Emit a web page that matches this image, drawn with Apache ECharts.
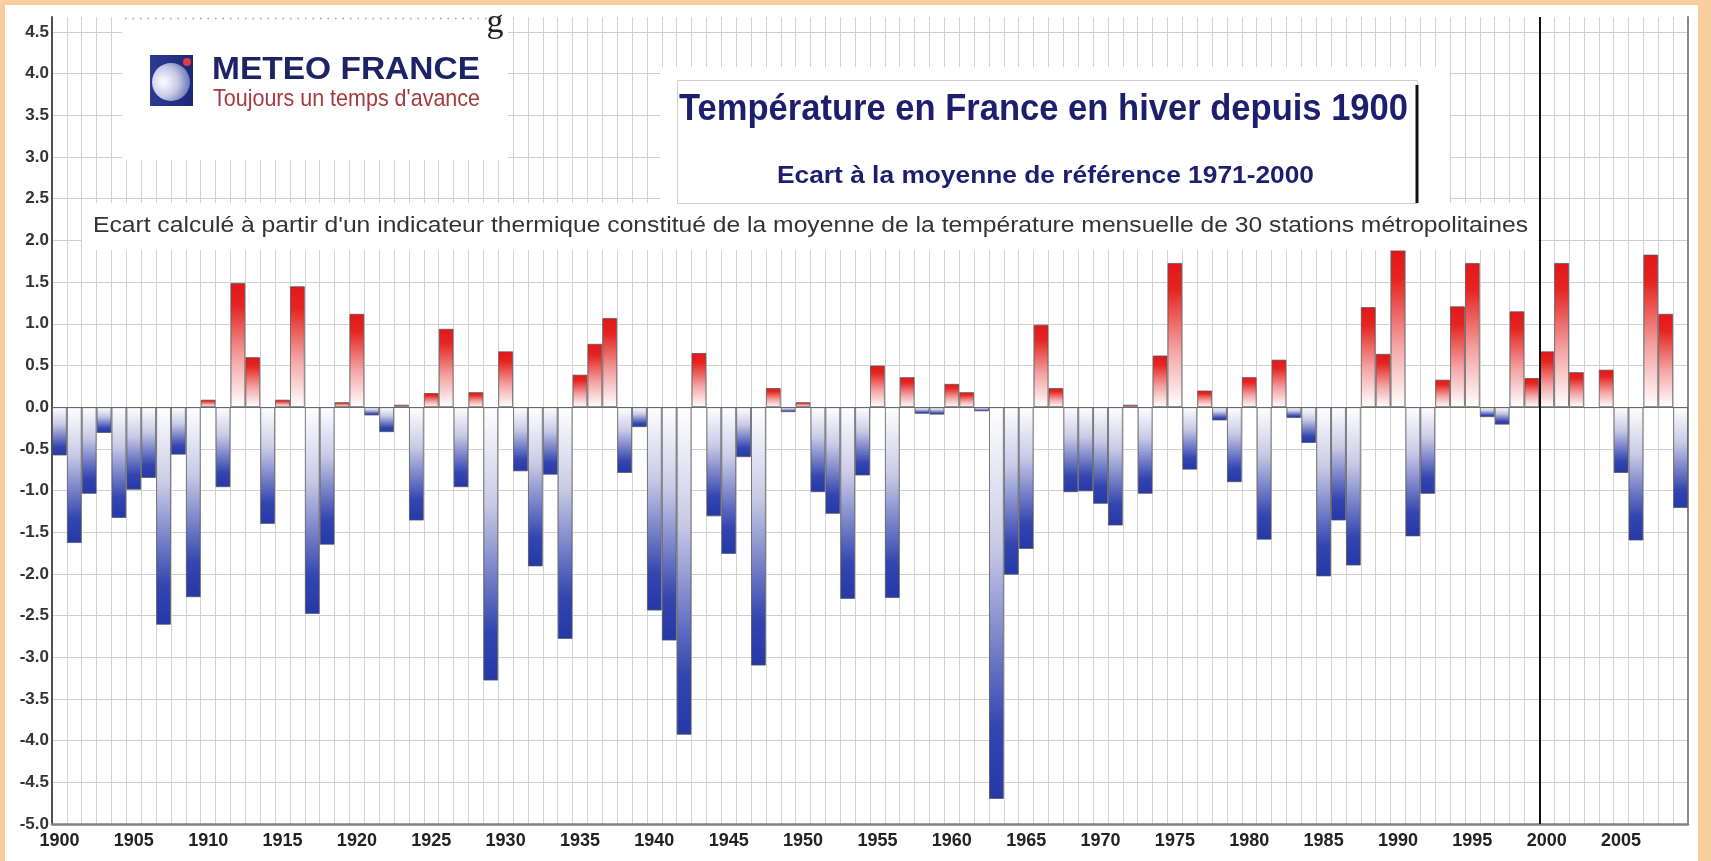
<!DOCTYPE html>
<html>
<head>
<meta charset="utf-8">
<script src="https://cdn.jsdelivr.net/npm/echarts@6/dist/echarts.min.js"></script>
<style>
html,body{margin:0;padding:0;background:#fff;}
#chart{width:1711px;height:861px;}
</style>
</head>
<body>
<div id="chart"></div>
<script>
// ---- Data ----
const years = ['1900','1901','1902','1903','1904','1905','1906','1907','1908','1909',
  '1910','1911','1912','1913','1914','1915','1916','1917','1918','1919',
  '1920','1921','1922','1923','1924','1925','1926','1927','1928','1929',
  '1930','1931','1932','1933','1934','1935','1936','1937','1938','1939',
  '1940','1941','1942','1943','1944','1945','1946','1947','1948','1949',
  '1950','1951','1952','1953','1954','1955','1956','1957','1958','1959',
  '1960','1961','1962','1963','1964','1965','1966','1967','1968','1969',
  '1970','1971','1972','1973','1974','1975','1976','1977','1978','1979',
  '1980','1981','1982','1983','1984','1985','1986','1987','1988','1989',
  '1990','1991','1992','1993','1994','1995','1996','1997','1998','1999',
  '2000','2001','2002','2003','2004','2005','2006','2007','2008','2009'];

const anomalies = [
  -0.58,-1.63,-1.04,-0.31,-1.33,-0.99,-0.85,-2.61,-0.57,-2.28,
   0.09,-0.96, 1.49, 0.60,-1.40, 0.09, 1.45,-2.48,-1.65, 0.06,
   1.12,-0.10,-0.30, 0.03,-1.36, 0.17, 0.94,-0.96, 0.18,-3.28,
   0.67,-0.77,-1.91,-0.81,-2.78, 0.39, 0.76, 1.07,-0.79,-0.24,
  -2.44,-2.80,-3.93, 0.65,-1.31,-1.76,-0.60,-3.10, 0.23,-0.06,
   0.06,-1.02,-1.28,-2.30,-0.82, 0.50,-2.29, 0.36,-0.08,-0.09,
   0.28, 0.18,-0.05,-4.70,-2.01,-1.70, 0.99, 0.23,-1.02,-1.01,
  -1.16,-1.42, 0.03,-1.04, 0.62, 1.73,-0.75, 0.20,-0.16,-0.90,
   0.36,-1.59, 0.57,-0.13,-0.43,-2.03,-1.36,-1.90, 1.20, 0.64,
   1.88,-1.55,-1.04, 0.33, 1.21, 1.73,-0.12,-0.21, 1.15, 0.35,
   0.67, 1.73, 0.42,-0.01, 0.45,-0.79,-1.60, 1.83, 1.12,-1.21];

const yMin = -5.0;
const yMax = 4.68;
const yStep = 0.5;
const xLabelEvery = 5;
const referenceMarkYear = 1999.5; // boundary before 2000

const titleText = 'Température en France en hiver depuis 1900';
const subtitleText = 'Ecart à la moyenne de référence 1971-2000';
const noteText = "Ecart calculé à partir d'un indicateur thermique constitué de la moyenne de la température mensuelle de 30 stations métropolitaines";
const logoName = 'METEO FRANCE';
const logoTagline = "Toujours un temps d'avance";

// ---- helpers ----
const FONT = '"Liberation Sans", Arial, sans-serif';
const ctx = document.createElement('canvas').getContext('2d');
function fitScale(text, font, target) {
  ctx.font = font;
  return target / ctx.measureText(text).width;
}

const redGrad = new echarts.graphic.LinearGradient(0, 0, 0, 1, [
  {offset: 0, color: '#e3171b'},
  {offset: 0.18, color: '#e52420'},
  {offset: 0.6, color: '#f3a3a2'},
  {offset: 1, color: '#ffffff'}
]);
const blueGrad = new echarts.graphic.LinearGradient(0, 0, 0, 1, [
  {offset: 0, color: '#ffffff'},
  {offset: 0.35, color: '#c9cbe6'},
  {offset: 0.82, color: '#3245b0'},
  {offset: 1, color: '#2538a8'}
]);

const chart = echarts.init(document.getElementById('chart'), null, {renderer: 'canvas'});

function textEl(text, x, y, font, fill, target, z) {
  return {
    type: 'text', x: x, y: y, z: z || 110,
    scaleX: fitScale(text, font, target), scaleY: 1, originX: 0, originY: 0,
    style: {text: text, font: font, fill: fill,
      align: 'left', textAlign: 'left', verticalAlign: 'middle', textVerticalAlign: 'middle'}
  };
}

const fTitle = 'bold 36px ' + FONT;
const fSub = 'bold 24px ' + FONT;
const fNote = '22px ' + FONT;
const fLogo = 'bold 32px ' + FONT;
const fTag = '24px ' + FONT;

const option = {
  backgroundColor: '#ffffff',
  animation: false,
  grid: {left: 52, right: 23, top: 17, bottom: 37, containLabel: false},
  xAxis: [{
    type: 'category',
    data: years,
    boundaryGap: true,
    axisLine: {onZero: false, lineStyle: {color: '#808080', width: 2.5}},
    axisTick: {show: false},
    axisLabel: {
      interval: function (idx, val) { return (+val) % xLabelEvery === 0; },
      color: '#222', fontWeight: 'bold', fontSize: 18, fontFamily: FONT, margin: 8
    },
    splitLine: {show: true, interval: 0, lineStyle: {color: '#d2d2d2', width: 1}}
  }, {
    type: 'value',
    min: +years[0] - 0.5,
    max: +years[years.length - 1] + 0.5,
    show: false
  }],
  yAxis: [{
    type: 'value',
    min: yMin, max: yMax, interval: yStep,
    axisLine: {show: true, lineStyle: {color: '#505050', width: 2}},
    axisTick: {show: false},
    axisLabel: {
      showMaxLabel: false,
      formatter: function (v) {
        return Math.abs(v / yStep - Math.round(v / yStep)) < 1e-6 ? v.toFixed(1) : '';
      },
      color: '#333', fontWeight: 'bold', fontSize: 17, fontFamily: FONT, margin: 3
    },
    splitLine: {show: true, showMaxLine: false, lineStyle: {color: '#cfcfcf', width: 1}}
  }, {
    type: 'value', position: 'right',
    min: yMin, max: yMax,
    axisLine: {show: true, lineStyle: {color: '#8a8a8a', width: 2}},
    axisTick: {show: false}, axisLabel: {show: false}, splitLine: {show: false}
  }],
  series: [{
    type: 'bar',
    data: anomalies,
    barCategoryGap: '0%',
    itemStyle: {
      color: function (p) { return p.value >= 0 ? redGrad : blueGrad; },
      borderColor: 'rgba(85,85,85,0.75)',
      borderWidth: 1
    },
    markLine: {
      silent: true, symbol: 'none', label: {show: false},
      lineStyle: {color: '#6a6a6a', width: 1.2, type: 'solid'},
      data: [{yAxis: 0}]
    },
    z: 3
  }, {
    type: 'line',
    xAxisIndex: 1,
    yAxisIndex: 0,
    data: [],
    markLine: {
      silent: true, symbol: 'none', label: {show: false},
      lineStyle: {color: '#111', width: 2, type: 'solid'},
      data: [{xAxis: referenceMarkYear}]
    },
    z: 4
  }],
  graphic: {elements: [
    // orange frame
    {type: 'rect', shape: {x: 0, y: 0, width: 1711, height: 5}, style: {fill: '#facd9f'}, z: 200},
    {type: 'rect', shape: {x: 0, y: 0, width: 5, height: 861}, style: {fill: '#facd9f'}, z: 200},
    {type: 'rect', shape: {x: 1698, y: 0, width: 13, height: 861}, style: {fill: '#facd9f'}, z: 200},
    // logo area
    {type: 'rect', shape: {x: 122, y: 17, width: 386, height: 143}, style: {fill: '#ffffff'}, z: 100},
    {type: 'line', shape: {x1: 125, y1: 18.5, x2: 505, y2: 18.5},
      style: {stroke: '#9a9a9a', lineWidth: 1.5, lineDash: [1.5, 6]}, z: 101},
    // remnant glyph of a cut caption
    {type: 'text', x: 495, y: 40, z: 150,
      style: {text: 'g', font: '34px "Liberation Serif", serif', fill: '#222',
        align: 'center', textAlign: 'center', verticalAlign: 'bottom', textVerticalAlign: 'bottom'}},
    {type: 'rect', shape: {x: 150, y: 55, width: 43, height: 51},
      style: {fill: new echarts.graphic.LinearGradient(0, 0, 1, 0, [
        {offset: 0, color: '#2c3b92'}, {offset: 1, color: '#1a2878'}])}, z: 110},
    {type: 'circle', shape: {cx: 171, cy: 82, r: 19},
      style: {fill: new echarts.graphic.RadialGradient(0.3, 0.5, 0.8, [
        {offset: 0, color: '#ffffff'}, {offset: 0.5, color: '#c3c7e4'}, {offset: 1, color: '#4d5aa8'}])}, z: 111},
    {type: 'circle', shape: {cx: 187, cy: 62, r: 4}, style: {fill: '#e23a3e'}, z: 112},
    textEl(logoName, 212, 70, fLogo, '#1c2465', 268),
    textEl(logoTagline, 213, 99, fTag, '#a8383c', 267),
    // title area
    {type: 'rect', shape: {x: 660, y: 67, width: 790, height: 137}, style: {fill: '#ffffff'}, z: 100},
    {type: 'rect', shape: {x: 677.5, y: 80.5, width: 740, height: 123},
      style: {fill: '#ffffff', stroke: '#cfcfcf', lineWidth: 1}, z: 101},
    {type: 'line', shape: {x1: 1417, y1: 85, x2: 1417, y2: 203},
      style: {stroke: '#111', lineWidth: 3}, z: 102},
    textEl(titleText, 679, 110, fTitle, '#1b1f6e', 729),
    textEl(subtitleText, 777, 176, fSub, '#1b1f6e', 537),
    // note band
    {type: 'rect', shape: {x: 82, y: 203, width: 1456, height: 47}, style: {fill: '#ffffff'}, z: 100},
    textEl(noteText, 93, 226, fNote, '#333333', 1435)
  ]}
};
chart.setOption(option);
</script>
</body>
</html>
